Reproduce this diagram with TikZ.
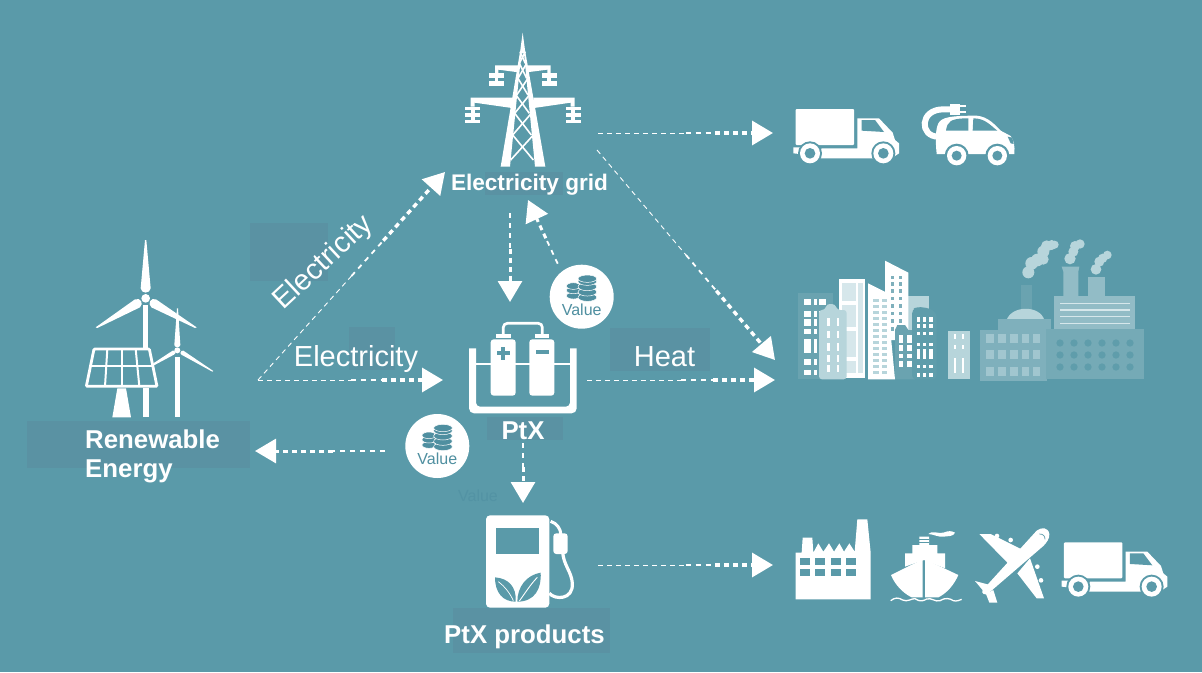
\documentclass[tikz,border=0pt]{standalone}
\usepackage{fontspec}
\setmainfont{Liberation Sans}
\usepackage{xcolor}
\usetikzlibrary{arrows.meta, calc}

\definecolor{bgteal}{HTML}{5A9AA9}
\definecolor{patch}{HTML}{5A92A3}
\definecolor{coinc}{HTML}{4F8FA0}
\definecolor{pale}{HTML}{B7D5DB}
\definecolor{palest}{HTML}{D6E7EB}
\definecolor{midt}{HTML}{7FB0BC}
\definecolor{darkt}{HTML}{6AA3B0}
\definecolor{lowt}{HTML}{5F9DAB}

\newcommand{\flow}[2]{%
  \draw[arrthin] (#1) -- ($(#1)!.5!(#2)$);
  \draw[arrmid] ($(#1)!.5!(#2)$) -- ($(#1)!.67!(#2)$);
  \draw[arrend] ($(#1)!.67!(#2)$) -- (#2);
}
\newcommand{\shortflow}[2]{%
  \draw[arrmid] (#1) -- ($(#1)!.4!(#2)$);
  \draw[arrend, line width=3pt] ($(#1)!.4!(#2)$) -- (#2);
}

\tikzset{
  pics/truck/.style={code={
    \fill[white, rounded corners=1pt] (47,57) rectangle (222,165);
    \fill[white] (40,172) -- (65,172) -- (58,192) -- (40,190) -- cycle;
    \fill[white] (125,175) -- (232,175) -- (232,85) -- (297,85) -- (338,128) -- (345,150) -- (357,160) -- (357,190) -- (335,205) -- (110,205) -- cycle;
    \fill[bgteal] (245,90) -- (285,90) -- (312,126) -- (245,122) -- cycle;
    \foreach \cx in {90,310} {
      \fill[bgteal] (\cx,190) circle (36);
      \fill[white] (\cx,190) circle (30);
      \fill[bgteal] (\cx,190) circle (16);
    }
  }},
  pics/ecar/.style={code={
    \draw[white, line width=6pt] (515,58) -- (490,58) .. controls (418,58) and (418,140) .. (475,140);
    \fill[white] (510,42) rectangle (540,74);
    \fill[white] (540,44) rectangle (558,50);
    \fill[white] (540,62) rectangle (558,68);
    \fill[white] (470,192) .. controls (466,150) and (466,120) .. (475,100) .. controls (485,82) and (510,77) .. (590,77) .. controls (625,80) and (645,105) .. (662,122) -- (692,138) .. controls (702,150) and (705,170) .. (703,192) -- cycle;
    \fill[bgteal] (498,122) .. controls (502,95) and (510,85) .. (565,85) -- (565,122) -- cycle;
    \fill[bgteal] (578,122) -- (580,85) .. controls (615,85) and (630,105) .. (652,122) -- cycle;
    \fill[bgteal] (683,140) -- (697,143) -- (701,162) -- (692,160) -- cycle;
    \foreach \cx in {530,652} {
      \fill[bgteal] (\cx,197) circle (36);
      \fill[white] (\cx,197) circle (29);
      \fill[bgteal] (\cx,197) circle (15);
    }
  }},
  pics/pylon/.style={code={
    \fill[white] (248,38) -- (255,90) -- (316,440) -- (285,440) -- (252,100) -- (244,100) -- (210,440) -- (182,440) -- (241,90) -- cycle;
    \foreach \xa/\ya/\xb/\yb in {240/95/256/130, 256/95/238/130, 238/130/260/175, 260/130/234/175, 234/175/264/225, 264/175/230/225, 228/225/268/280, 268/225/224/280, 224/280/274/345, 274/280/218/345, 218/345/280/420, 280/345/212/420}
      \draw[white, line width=1.6pt] (\xa,\ya) -- (\xb,\yb);
    % upper arms
    \fill[white] (165,136) -- (236,136) -- (236,157) -- (175,149) -- (175,160) -- (165,160) -- cycle;
    \fill[white] (332,136) -- (260,136) -- (260,157) -- (322,149) -- (322,160) -- (332,160) -- cycle;
    \fill[white] (148,160) rectangle (192,174);
    \fill[white] (148,184) rectangle (192,197);
    \fill[white] (165,170) rectangle (175,190);
    \fill[white] (306,160) rectangle (350,174);
    \fill[white] (306,184) rectangle (350,197);
    \fill[white] (322,170) rectangle (332,190);
    % lower arms
    \fill[white] (92,233) -- (218,233) -- (216,264) -- (104,248) -- (104,260) -- (92,260) -- cycle;
    \fill[white] (404,233) -- (280,233) -- (282,264) -- (392,248) -- (392,260) -- (404,260) -- cycle;
    \foreach \xo in {75,378}
      \foreach \yo in {260,280,300}
        \fill[white] (\xo,\yo) rectangle ++(45,10);
    \fill[white] (92,260) rectangle (104,300);
    \fill[white] (392,260) rectangle (404,300);
  }},
  pics/renew/.style={code={
    % large turbine
    \fill[white] (368,255) rectangle (385,385);
    \fill[white] (368,505) rectangle (388,592);
    \fill[white] (375,60) -- (379,60) -- (392,205) .. controls (390,222) and (364,222) .. (362,205) -- cycle;
    \fill[white] (227,322) -- (345,238) .. controls (362,232) and (372,250) .. (360,262) -- (232,324) -- cycle;
    \fill[white] (530,322) -- (408,238) .. controls (392,232) and (382,250) .. (394,262) -- (525,324) -- cycle;
    \fill[white] (377,235) circle (13);
    % small turbine
    \fill[white] (465,410) rectangle (479,592);
    \fill[white] (471,265) -- (474,265) -- (481,375) .. controls (479,384) and (465,384) .. (463,375) -- cycle;
    \fill[white] (400,430) -- (458,392) .. controls (466,390) and (470,400) .. (462,404) -- (400,437) -- cycle;
    \fill[white] (580,453) -- (490,392) .. controls (482,390) and (478,402) .. (486,405) -- (577,455) -- cycle;
    \fill[white] (472,391) circle (9);
    % solar panel
    \draw[white, fill=bgteal, line width=2.8pt, rounded corners=1pt] (222,387) -- (388,387) -- (411,499) -- (199,499) -- cycle;
    \draw[white, line width=2pt] (213,438) -- (398,438);
    \foreach \xa/\xb in {262/255, 305/305, 347/358}
      \draw[white, line width=2pt] (\xa,387) -- (\xb,499);
    \fill[white] (292,505) -- (318,505) -- (333,592) -- (277,592) -- cycle;
  }},
  pics/cell/.style={code={
    \fill[white] (207,265) [rounded corners=5pt] -- (207,460) -- (530,460) [sharp corners] -- (530,265) -- (510,265) [rounded corners=4pt] -- (510,440) -- (228,440) [sharp corners] -- (228,265) -- cycle;
    \draw[white, line width=1.2pt] (228,312) -- (510,312);
    \draw[white, line width=2.7pt, rounded corners=4pt] (310,228) -- (310,190) -- (427,190) -- (427,228);
    \foreach \xo in {272,388} {
      \fill[white, rounded corners=3pt] (\xo,238) rectangle ++(75,169);
      \fill[white] (\xo+16,222) rectangle ++(44,12);
    }
    \fill[bgteal] (304,260) rectangle (316,300);
    \fill[bgteal] (290,274) rectangle (330,286);
    \fill[bgteal] (407,270) rectangle (447,281);
  }},
  pics/coins/.style={code={
    \foreach \yy in {-3,-19}
      \filldraw[fill=coinc, draw=white, line width=.5pt] (-25,\yy) ellipse (21 and 10);
    \filldraw[fill=coinc, draw=white, line width=.5pt] (-25,-32) ellipse (21 and 10);
    \foreach \yy in {2,-14,-30,-46}
      \filldraw[fill=coinc, draw=white, line width=.5pt] (17,\yy) ellipse (28 and 12);
    \filldraw[fill=coinc, draw=white, line width=.5pt] (17,-54) ellipse (28 and 11);
  }},
  pics/pump/.style={code={
    \fill[white, rounded corners=4pt] (168,46) rectangle (358,323);
    \fill[bgteal] (198,83) rectangle (328,163);
    \fill[bgteal] (195,232) .. controls (235,235) and (260,260) .. (257,305) .. controls (220,305) and (195,280) .. (195,232) -- cycle;
    \fill[bgteal] (332,218) .. controls (335,265) and (315,305) .. (262,305) .. controls (262,260) and (290,225) .. (332,218) -- cycle;
    \draw[white, line width=.7pt] (205,245) .. controls (225,260) and (240,280) .. (250,302);
    \draw[white, line width=.9pt] (322,232) .. controls (300,255) and (285,280) .. (268,303);
    \draw[white, line width=3.2pt] (358,280) .. controls (375,300) and (430,300) .. (427,250) .. controls (425,215) and (400,195) .. (398,155);
    \fill[white, rounded corners=3pt] (370,100) rectangle (413,162);
    \draw[white, line width=3pt] (362,64) .. controls (380,70) and (392,85) .. (393,105);
  }},
  pics/city/.style={code={
    % back towers
    \fill[pale] (385,197) rectangle (448,300);
    \fill[darkt] (55,190) rectangle (158,448);
    \foreach \yo/\hh in {208/18, 242/20, 268/20, 297/15, 328/42, 388/17, 420/15} {
      \fill[white] (73,\yo) rectangle ++(20,\hh);
      \fill[white] (101,\yo) rectangle ++(11,\hh);
      \fill[white] (117,\yo) rectangle ++(22,\hh);
    }
    \fill[white] (178,147) rectangle (255,445);
    \fill[palest] (185,160) rectangle (228,212);
    \fill[palest] (185,224) rectangle (228,290);
    \fill[palest] (185,302) rectangle (228,380);
    \fill[palest] (185,392) rectangle (228,430);
    \fill[palest] (235,160) rectangle (250,430);
    % slanted towers
    \fill[white] (315,92) -- (385,128) -- (385,330) -- (315,330) -- cycle;
    \foreach \yo in {137,157,178,200,222,245,268,292}
      \foreach \xo in {333,357}
        \fill[midt] (\xo,\yo) rectangle ++(10,11);
    \fill[white] (264,160) -- (320,188) -- (345,448) -- (264,448) -- cycle;
    \foreach \yo in {208,226,244,262,280,298,316,334,352,370,388,406,424}
      \foreach \xo in {280,305}
        \fill[pale] (\xo,\yo) rectangle ++(17,9);
    % front blocks
    \fill[pale, rounded corners=3pt] (117,240) -- (135,240) -- (140,222) -- (165,222) -- (172,240) -- (200,240) -- (200,448) -- (117,448) -- cycle;
    \foreach \yo in {265,303,340,375,405}
      \foreach \xo/\ww in {140/9, 172/5}
        \fill[white] (\xo,\yo) rectangle ++(\ww,22);
    \fill[darkt] (345,300) -- (352,285) -- (375,285) -- (385,300) -- (405,300) -- (405,448) -- (345,448) -- cycle;
    \foreach \yo/\hh in {315/25, 345/18, 372/12, 392/18}
      \foreach \xo in {357,382}
        \fill[white] (\xo,\yo) rectangle ++(13,\hh);
    \fill[lowt, rounded corners=4pt] (396,448) -- (396,240) -- (410,230) -- (450,235) -- (470,250) -- (470,448) -- cycle;
    \foreach \yo/\hh in {262/15, 282/12, 305/10, 338/10, 358/28, 405/10, 430/10} {
      \fill[white] (410,\yo) rectangle ++(10,\hh);
      \fill[white] (428,\yo) rectangle ++(10,\hh);
      \fill[white] (448,\yo) rectangle ++(12,\hh);
    }
    \fill[pale] (504,303) rectangle (570,448);
    \foreach \yo/\hh in {312/14, 345/12, 385/45}
      \foreach \xo in {522,546}
        \fill[white] (\xo,\yo) rectangle ++(5,\hh);
    % factory
    \fill[darkt] (722,165) rectangle (757,240);
    \fill[pale] (680,270) .. controls (695,225) and (780,225) .. (793,270) -- cycle;
    \fill[midt] (655,268) rectangle (812,300);
    \fill[midt] (600,300) rectangle (800,452);
    \foreach \yo in {312,360,410}
      \foreach \xo in {618,654,690,725,758}
        \fill[pale!60!midt] (\xo,\yo) rectangle ++(23,28);
    \fill[midt!85!white] (845,110) -- (898,110) -- (895,125) -- (895,200) -- (850,200) -- (850,125) -- cycle;
    \fill[midt!85!white] (925,142) rectangle (975,200);
    \fill[midt!85!white] (823,198) rectangle (1066,298);
    \foreach \yo in {221,240,260,280}
      \draw[palest, line width=1.4pt] (840,\yo) -- (1050,\yo);
    \fill[darkt!50!midt] (798,298) rectangle (1092,448);
    \foreach \yo in {339,375,411}
      \foreach \xo in {840,882,924,966,1008,1050}
        \fill[lowt] (\xo,\yo) circle (11);
    % smoke
    \foreach \xo/\yo/\rr in {745/127/18, 755/100/19, 772/90/19, 790/65/18, 800/48/17, 790/88/16, 815/45/15, 824/44/12,
                             870/86/17, 880/65/15, 885/48/15, 900/42/14,
                             948/118/16, 958/95/15, 968/85/14, 982/75/13}
      \fill[pale] (\xo,\yo) circle (\rr);
  }},
  pics/works/.style={code={
    \fill[white] (47,268) -- (47,128) -- (65,128) -- (68,83) -- (97,83) -- (100,128) -- (115,100) -- (130,125) -- (147,100) -- (162,125) -- (178,100) -- (192,125) -- (208,100) -- (224,125) -- (232,28) -- (262,28) -- (272,128) -- (272,268) -- cycle;
    \foreach \xo in {60,105,152,197}
      \foreach \yo in {145,178}
        \fill[bgteal] (\xo,\yo) rectangle ++(30,19);
  }},
  pics/ship/.style={code={
    \fill[white] (375,170) -- (375,130) -- (397,130) -- (397,105) -- (418,105) -- (418,80) -- (447,80) -- (447,105) -- (472,105) -- (472,130) -- (495,130) -- (495,175) -- (432,150) -- cycle;
    \fill[white] (333,195) -- (428,148) -- (428,262) -- (395,262) .. controls (370,250) and (345,225) .. (333,195) -- cycle;
    \fill[white] (435,148) -- (535,195) .. controls (522,225) and (500,250) .. (475,262) -- (435,262) -- cycle;
    \foreach \yo in {88,96}
      \draw[bgteal, line width=.6pt] (418,\yo) -- (447,\yo);
    \fill[white] (445,72) .. controls (455,60) and (475,72) .. (490,68) .. controls (505,62) and (515,62) .. (525,68) .. controls (520,80) and (505,78) .. (490,80) .. controls (475,82) and (458,72) .. (445,72) -- cycle;
    \draw[white, line width=1.3pt] (332,272) .. controls (345,262) and (355,262) .. (368,270) .. controls (382,277) and (395,265) .. (405,266) .. controls (420,277) and (432,272) .. (440,267) .. controls (455,262) and (465,277) .. (480,272) .. controls (495,262) and (510,265) .. (520,272) .. controls (530,275) and (540,270) .. (545,268);
  }},
  pics/plane/.style={code={
    \fill[white] (598,72) -- (632,72) -- (725,118) -- (692,168) -- cycle;
    \fill[white] (712,190) -- (750,145) -- (792,265) -- (770,265) -- cycle;
    \fill[white] (585,213) -- (630,225) -- (610,243) -- cycle;
    \fill[white] (618,252) -- (640,240) -- (652,278) -- (628,278) -- cycle;
    \foreach \xo/\yo in {651/78, 692/90, 772/170, 783/211}
      \fill[white] (\xo,\yo) circle (7);
    \fill[white] (608,240) -- (770,62) .. controls (785,50) and (805,52) .. (808,72) .. controls (810,85) and (798,100) .. (790,108) -- (625,250) .. controls (615,258) and (602,250) .. (608,240) -- cycle;
    \draw[bgteal, line width=.7pt] (778,72) .. controls (790,72) and (795,78) .. (795,88);
  }}
}

\begin{document}
\begin{tikzpicture}[
    x=1pt, y=-1pt,
    patchbox/.style={fill=patch},
    lblreg/.style={text=white, inner sep=0pt, font=\fontsize{29}{31}\selectfont},
    lblbold/.style={text=white, inner sep=0pt, font=\fontsize{25.8}{29}\selectfont\bfseries},
    badge/.style={circle, fill=white, minimum size=64pt, inner sep=0pt},
    valtxt/.style={text=coinc, inner sep=0pt, font=\fontsize{16}{18}\selectfont},
    arrthin/.style={white, line width=.9pt, dash pattern=on 5pt off 4pt},
    arrmid/.style={white, line width=1.8pt, dash pattern=on 5pt off 5pt},
    arrend/.style={white, line width=3.4pt, dash pattern=on 5pt off 4pt, -{Triangle[length=21pt, width=24pt]}}
  ]
  \fill[bgteal] (0,0) rectangle (1202,672);
  \useasboundingbox (0,0) rectangle (1202,672);

  % darker patches behind the labels
  \fill[patchbox] (250,223) rectangle (328,281);
  \fill[patchbox] (349,327) rectangle (395,370);
  \fill[patchbox] (610,328) rectangle (710,371);
  \fill[patchbox] (27,421) rectangle (250,468);
  \fill[patchbox] (485,172) rectangle (563,195);
  \fill[patchbox] (487,417) rectangle (563,440);
  \fill[patchbox] (453,608) rectangle (610,653);

  % icons
  \pic[scale=1/3] at (20,220) {renew};
  \pic[scale=1/3] at (440,20) {pylon};
  \pic[scale=1/3] at (400,260) {cell};
  \pic[scale=1/3] at (430,500) {pump};
  \pic[scale=1/3] at (780,90) {truck};
  \pic[scale=1/3] at (780,90) {ecar};
  \pic[scale=1/3] at (780,230) {city};
  \pic[scale=1/3] at (780,510) {works};
  \pic[scale=1/3] at (780,510) {ship};
  \pic[scale=1/3] at (780,510) {plane};
  \pic[scale=1/3] at (1048.3,523.3) {truck};

  % labels
  \node[lblbold, anchor=west, align=left] (renewlbl) at (85,456) {Renewable\\Energy};
  \node[lblbold, anchor=base, font=\fontsize{22.6}{25}\selectfont\bfseries] (gridlbl) at (529.5,190) {Electricity grid};
  \node[lblbold, anchor=base] (ptxlbl) at (523,439) {PtX};
  \node[lblbold, anchor=base] (prodlbl) at (524.5,643) {PtX products};
  \node[lblreg, anchor=base] (elec) at (356,366) {Electricity};
  \node[lblreg, rotate=43] (elecup) at (324,263) {Electricity};
  \node[lblreg, anchor=base] (heat) at (664.5,366) {Heat};
  \node[valtxt, text=coinc!60!bgteal] (ghost) at (478,496) {Value};

  % value badges
  \node[badge] (valuea) at (581.7,296.7) {};
  \pic[scale=1/3] at (valuea) {coins};
  \node[valtxt] (valuealbl) at ($(valuea)+(0,13)$) {Value};
  \node[badge] (valueb) at (437.3,446) {};
  \pic[scale=1/3] at (valueb) {coins};
  \node[valtxt] (valueblbl) at ($(valueb)+(0,13)$) {Value};

  % flow ends
  \coordinate (renewout) at (258,380);
  \coordinate (renewin) at (255,451);
  \coordinate (gridin) at (445,172);
  \coordinate (gridout) at (598,133);
  \coordinate (gridcity) at (597,150);
  \coordinate (griddown) at (510,213);
  \coordinate (gridback) at (528,200);
  \coordinate (cellin) at (443,380);
  \coordinate (celltop) at (510,302);
  \coordinate (cellout) at (587,380);
  \coordinate (cellback) at (385,451);
  \coordinate (cellbelow) at (523,443);
  \coordinate (pumpin) at (523,503);
  \coordinate (pumpout) at (598,565);
  \coordinate (roadin) at (773,133);
  \coordinate (cityina) at (775,360);
  \coordinate (cityinb) at (775,380);
  \coordinate (usein) at (773,565);
  \coordinate (valueout) at ($(valuea)+(-24,-33)$);

  \flow{renewout}{gridin}
  \flow{renewout}{cellin}
  \flow{gridout}{roadin}
  \flow{gridcity}{cityina}
  \flow{cellout}{cityinb}
  \flow{pumpout}{usein}
  \shortflow{griddown}{celltop}
  \shortflow{valueout}{gridback}
  \shortflow{cellback}{renewin}
  \shortflow{cellbelow}{pumpin}
\end{tikzpicture}
\end{document}
